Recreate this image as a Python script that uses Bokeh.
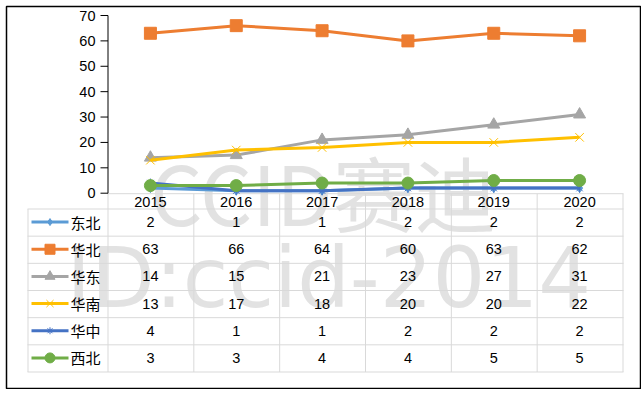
from bokeh.plotting import figure
from bokeh.models import Range1d, ColumnDataSource
from bokeh.embed import file_html
from bokeh.resources import INLINE
from bokeh.core.properties import value

# ---------------- data ----------------
years = ["2015", "2016", "2017", "2018", "2019", "2020"]
series_names = ["东北", "华北", "华东", "华南", "华中", "西北"]
dongbei = [2, 1, 1, 2, 2, 2]
huabei = [63, 66, 64, 60, 63, 62]
huadong = [14, 15, 21, 23, 27, 31]
huanan = [13, 17, 18, 20, 20, 22]
huazhong = [4, 1, 1, 2, 2, 2]
xibei = [3, 3, 4, 4, 5, 5]
y_ticks = [0, 10, 20, 30, 40, 50, 60, 70]
y_tick_labels = ["0", "10", "20", "30", "40", "50", "60", "70"]
watermark = ["CCID赛迪", "ID:ccid-2014"]

all_series = [dongbei, huabei, huadong, huanan, huazhong, xibei]
colors = ["#5B9BD5", "#ED7D31", "#A5A5A5", "#FFC000", "#4472C4", "#70AD47"]
markers = ["diamond", "square", "triangle", "x", "x", "circle"]
msizes = [9, 12, 12, 12, 9, 12]

# ---------------- layout (page pixels) ----------------
W, H = 641, 389
FL, FR, FT, FB = 6, 640, 6, 388          # frame edges on the page
AX_X = 107                                # value axis line
TBL_L, TBL_R = 27, 622
Y0, YTOP = 192.7, 15.0                    # pixel rows of 0 and 70
HDR_B = 208
ROW_H = (371 - 208) / 6
CW = (TBL_R - AX_X) / len(years)
CX0 = AX_X + CW / 2
K = (Y0 - YTOP) / 70.0

xr = Range1d((FL - CX0) / CW, (FR - CX0) / CW)
yr = Range1d((Y0 - FB) / K, (Y0 - FT) / K)

p = figure(width=W, height=H, x_range=xr, y_range=yr, title=None,
           x_axis_type=None, y_axis_type=None, output_backend="svg",
           toolbar_location=None, min_border_left=FL, min_border_top=FT,
           min_border_right=W - FR, min_border_bottom=H - FB)
p.extra_x_ranges = {"px": Range1d(FL, FR)}
p.extra_y_ranges = {"px": Range1d(FB, FT)}
p.outline_line_color = "black"
p.outline_line_width = 1.5
p.background_fill_color = "white"
p.border_fill_color = "white"

NUM_FONT = value("Liberation Sans")
CJK_FONT = value("Noto Sans CJK SC")
WM = "#e2e2e2"

# watermark
p.text(x=[323], y=[190], text=[watermark[0]], x_range_name="px", y_range_name="px",
       text_font=CJK_FONT, text_font_size="82px", text_color=WM,
       text_align="center", text_baseline="alphabetic")
p.text(x=[66], y=[278], text=[watermark[1]], x_range_name="px", y_range_name="px",
       text_font=value("DejaVu Sans"), text_font_size="83px", text_color=WM,
       text_align="left", text_baseline="alphabetic")

# table grid
GRID = "#D9D9D9"
vx = [AX_X + CW * k + 0.5 for k in range(len(years) + 1)]
p.segment(x0=vx, y0=[Y0 + 0.5] * len(vx), x1=vx, y1=[371.5] * len(vx),
          x_range_name="px", y_range_name="px", line_color=GRID, line_width=1)
p.segment(x0=[TBL_L + 0.5], y0=[HDR_B + 0.5], x1=[TBL_L + 0.5], y1=[371.5],
          x_range_name="px", y_range_name="px", line_color=GRID, line_width=1)
hy = [HDR_B + ROW_H * r + 0.5 for r in range(len(series_names) + 1)]
p.segment(x0=[TBL_L] * len(hy), y0=hy, x1=[TBL_R + 1] * len(hy), y1=hy,
          x_range_name="px", y_range_name="px", line_color=GRID, line_width=1)
p.segment(x0=[AX_X], y0=[Y0 + 0.5], x1=[TBL_R + 1], y1=[Y0 + 0.5],
          x_range_name="px", y_range_name="px", line_color=GRID, line_width=1)

# value axis
p.segment(x0=[AX_X + 0.5], y0=[0], x1=[AX_X + 0.5], y1=[70], x_range_name="px",
          line_color="black", line_width=1)
p.segment(x0=[AX_X - 7] * len(y_ticks), y0=y_ticks, x1=[AX_X + 0.5] * len(y_ticks), y1=y_ticks,
          x_range_name="px", line_color="black", line_width=1)
p.text(x=[95] * len(y_ticks), y=y_ticks, text=y_tick_labels, x_range_name="px",
       text_font=NUM_FONT, text_font_size="14.5px", text_color="black",
       text_align="right", text_baseline="middle")

# year header
p.text(x=list(range(len(years))), y=[201] * len(years), text=years, y_range_name="px",
       text_font=NUM_FONT, text_font_size="14.5px", text_color="black",
       text_align="center", text_baseline="middle")

# table values
tx, ty, tt = [], [], []
for r, s in enumerate(all_series):
    for i, v in enumerate(s):
        tx.append(i)
        ty.append(HDR_B + ROW_H * (r + 0.5))
        tt.append(str(v))
p.text(x="x", y="y", text="t", source=ColumnDataSource(dict(x=tx, y=ty, t=tt)),
       y_range_name="px", text_font=NUM_FONT, text_font_size="14.5px",
       text_color="black", text_align="center", text_baseline="middle")

# legend keys in table
for r, name in enumerate(series_names):
    cy = HDR_B + ROW_H * (r + 0.5)
    p.segment(x0=[31], y0=[cy], x1=[68], y1=[cy], x_range_name="px", y_range_name="px",
              line_color=colors[r], line_width=3)
    p.scatter(x=[49.5], y=[cy], marker=markers[r], size=msizes[r] - 2,
              x_range_name="px", y_range_name="px",
              fill_color=colors[r], line_color=colors[r], line_width=1)
    if r == 4:
        p.scatter(x=[49.5], y=[cy], marker="dash", angle=1.5708, size=msizes[r] - 2,
                  x_range_name="px", y_range_name="px", line_color=colors[r], line_width=1)
    p.text(x=[70], y=[cy], text=[name], x_range_name="px", y_range_name="px",
           text_font=CJK_FONT, text_font_size="15px", text_color="black",
           text_align="left", text_baseline="middle")

# series lines
xs = list(range(len(years)))
for r, s in enumerate(all_series):
    p.line(x=xs, y=s, line_color=colors[r], line_width=3)
    p.scatter(x=xs, y=s, marker=markers[r], size=msizes[r],
              fill_color=colors[r], line_color=colors[r], line_width=1)
    if r == 4:
        p.scatter(x=xs, y=s, marker="dash", angle=1.5708, size=msizes[r],
                  line_color=colors[r], line_width=1)

open("out.html", "w").write(file_html(p, INLINE))
